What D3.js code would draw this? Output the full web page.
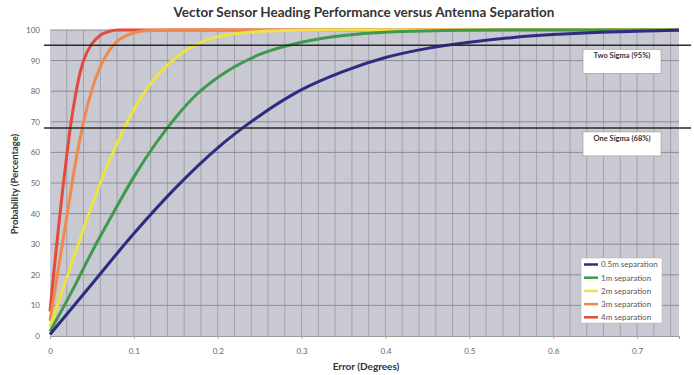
<!DOCTYPE html>
<html>
<head>
<meta charset="utf-8">
<script src="https://cdn.jsdelivr.net/npm/d3@7"></script>
<style>
  body { margin: 0; background: #fff; }
  svg text { font-family: Lato, "Open Sans", sans-serif; }
</style>
</head>
<body>
<div id="graph"></div>
<script>
// values
var seriesNames = ["0.5m separation", "1m separation", "2m separation", "3m separation", "4m separation"]
var seriesColors = ["#2e2c82", "#3f9a4c", "#ece344", "#ee8a4c", "#e24b3b"]

var blueX = [0, 0.05, 0.1, 0.15, 0.2, 0.25, 0.3, 0.35, 0.4, 0.45, 0.5, 0.55, 0.6, 0.65, 0.7, 0.75]
var blueY = [0.5, 17, 33.5, 48.5, 61.5, 72, 80.5, 86.5, 91, 94, 96, 97.5, 98.5, 99.2, 99.6, 99.9]

var greenX = [0, 0.025, 0.05, 0.075, 0.1, 0.125, 0.15, 0.175, 0.2, 0.25, 0.3, 0.35, 0.4, 0.5, 0.6, 0.75]
var greenY = [1.5, 14, 27.5, 40, 52, 62.5, 71.5, 79, 84.5, 92, 96, 98.2, 99.3, 99.9, 100, 100]

var yellowX = [0, 0.02, 0.04, 0.06, 0.08, 0.1, 0.12, 0.14, 0.16, 0.18, 0.2, 0.25, 0.3, 0.35, 0.75]
var yellowY = [3, 19, 35, 50, 63, 74, 82.5, 88.5, 93, 96, 97.8, 99.5, 99.9, 100, 100]

var orangeX = [0, 0.01, 0.02, 0.03, 0.04, 0.05, 0.06, 0.07, 0.08, 0.09, 0.1, 0.12, 0.15, 0.75]
var orangeY = [5, 22, 39, 56, 70, 80.5, 88, 93, 96.3, 98, 99, 99.8, 100, 100]

var redX = [0, 0.005, 0.01, 0.015, 0.02, 0.025, 0.03, 0.035, 0.04, 0.05, 0.06, 0.07, 0.08, 0.1, 0.75]
var redY = [8, 22, 35, 47.5, 59, 69.5, 78, 85, 90, 95.5, 98.3, 99.5, 100, 100, 100]

var xTicks = [0, 0.1, 0.2, 0.3, 0.4, 0.5, 0.6, 0.7]
var yTicks = [0, 10, 20, 30, 40, 50, 60, 70, 80, 90, 100]
var sigmaLevels = [95, 68]
var sigmaLabels = ["Two Sigma (95%)", "One Sigma (68%)"]

var width = 694,
  height = 375

var margin = { left: 50, right: 15, top: 30, bottom: 39 }

var svg = d3.select("#graph")
  .append("svg")
  .attr("width", width)
  .attr("height", height)

var x = d3.scaleLinear()
  .domain([0, 0.75])
  .range([margin.left, width - margin.right])

var y = d3.scaleLinear()
  .domain([0, 100])
  .range([height - margin.bottom, margin.top])

// plot background
svg.append("rect")
  .attr("x", x(0))
  .attr("y", y(100))
  .attr("width", x(0.75) - x(0))
  .attr("height", y(0) - y(100))
  .attr("fill", "#c8c9d2")

// vertical grid every 0.02
svg.append("g")
  .selectAll("line")
  .data(d3.range(1, 38).map(function (i) { return i * 0.02 }))
  .enter()
  .append("line")
  .attr("x1", function (d) { return x(d) })
  .attr("x2", function (d) { return x(d) })
  .attr("y1", y(0))
  .attr("y2", y(100))
  .attr("stroke", "#a2a2aa")
  .attr("stroke-width", 1)

// horizontal grid
svg.append("g")
  .selectAll("line")
  .data(yTicks.slice(1))
  .enter()
  .append("line")
  .attr("x1", x(0))
  .attr("x2", x(0.75))
  .attr("y1", function (d) { return y(d) })
  .attr("y2", function (d) { return y(d) })
  .attr("stroke", "#8c8c94")
  .attr("stroke-width", 1)

// axes
var xAxis = svg.append("g")
  .attr("transform", "translate(0," + y(0) + ")")
  .call(d3.axisBottom(x).tickValues(xTicks).tickSize(3).tickPadding(9)
    .tickFormat(function (d) { return d === 0 ? "0" : d3.format(".1f")(d) }))

var yAxis = svg.append("g")
  .attr("transform", "translate(" + x(0) + ",0)")
  .call(d3.axisLeft(y).tickValues(yTicks).tickSize(0).tickPadding(10))

xAxis.select(".domain").attr("stroke", "#999")
yAxis.select(".domain").attr("stroke", "#c8c9d2")
xAxis.selectAll(".tick line").attr("stroke", "#aaa")
svg.selectAll(".tick text")
  .attr("fill", "#666")
  .style("font-size", "8px")

// series, drawn last-to-first so the 0.5m line sits on top
var series = [
  { name: seriesNames[0], color: seriesColors[0], xs: blueX, ys: blueY },
  { name: seriesNames[1], color: seriesColors[1], xs: greenX, ys: greenY },
  { name: seriesNames[2], color: seriesColors[2], xs: yellowX, ys: yellowY },
  { name: seriesNames[3], color: seriesColors[3], xs: orangeX, ys: orangeY },
  { name: seriesNames[4], color: seriesColors[4], xs: redX, ys: redY }
]

var line = d3.line()
  .x(function (d) { return x(d[0]) })
  .y(function (d) { return y(d[1]) })
  .curve(d3.curveMonotoneX)

svg.append("g")
  .selectAll("path")
  .data(series.slice().reverse())
  .enter()
  .append("path")
  .attr("d", function (d) { return line(d3.zip(d.xs, d.ys)) })
  .attr("fill", "none")
  .attr("stroke", function (d) { return d.color })
  .attr("stroke-width", 3)
  .attr("stroke-linejoin", "round")

// sigma lines and label boxes
svg.append("g")
  .selectAll("line")
  .data(sigmaLevels)
  .enter()
  .append("line")
  .attr("x1", x(0) - 6)
  .attr("x2", width - 3)
  .attr("y1", function (d) { return y(d) })
  .attr("y2", function (d) { return y(d) })
  .attr("stroke", "#2a2a2a")
  .attr("stroke-width", 1.5)

var sigBox = svg.append("g")
  .selectAll("g")
  .data(sigmaLevels)
  .enter()
  .append("g")
  .attr("transform", function (d) { return "translate(583," + (y(d) + 4) + ")" })

sigBox.append("rect")
  .attr("width", 78)
  .attr("height", 24)
  .attr("fill", "#fff")
  .attr("stroke", "#999")
  .attr("stroke-width", 0.6)

sigBox.append("text")
  .attr("x", 39)
  .attr("y", 9)
  .attr("text-anchor", "middle")
  .attr("fill", "#333")
  .style("font-size", "7.5px")
  .style("font-weight", "bold")
  .text(function (d, i) { return sigmaLabels[i] })

// legend
var legend = svg.append("g")
  .attr("transform", "translate(581,258)")

legend.append("rect")
  .attr("width", 81)
  .attr("height", 65)
  .attr("fill", "#fff")
  .attr("stroke", "#bbb")
  .attr("stroke-width", 0.6)

var item = legend.selectAll(".item")
  .data(series)
  .enter()
  .append("g")
  .attr("class", "item")
  .attr("transform", function (d, i) { return "translate(0," + (6.5 + i * 13.2) + ")" })

item.append("line")
  .attr("x1", 3)
  .attr("x2", 17)
  .attr("stroke", function (d) { return d.color })
  .attr("stroke-width", 2.5)

item.append("text")
  .attr("x", 20)
  .attr("dy", "0.35em")
  .attr("fill", "#555")
  .style("font-size", "8px")
  .text(function (d) { return d.name })

// titles
svg.append("text")
  .attr("x", 364)
  .attr("y", 17)
  .attr("text-anchor", "middle")
  .attr("fill", "#333")
  .style("font-size", "13.5px")
  .style("font-weight", "bold")
  .text("Vector Sensor Heading Performance versus Antenna Separation")

svg.append("text")
  .attr("x", 366)
  .attr("y", 370)
  .attr("text-anchor", "middle")
  .attr("fill", "#333")
  .style("font-size", "10px")
  .style("font-weight", "bold")
  .text("Error (Degrees)")

svg.append("text")
  .attr("transform", "translate(18,184) rotate(-90)")
  .attr("text-anchor", "middle")
  .attr("fill", "#333")
  .style("font-size", "9.5px")
  .style("font-weight", "bold")
  .text("Probability (Percentage)")
</script>
</body>
</html>
